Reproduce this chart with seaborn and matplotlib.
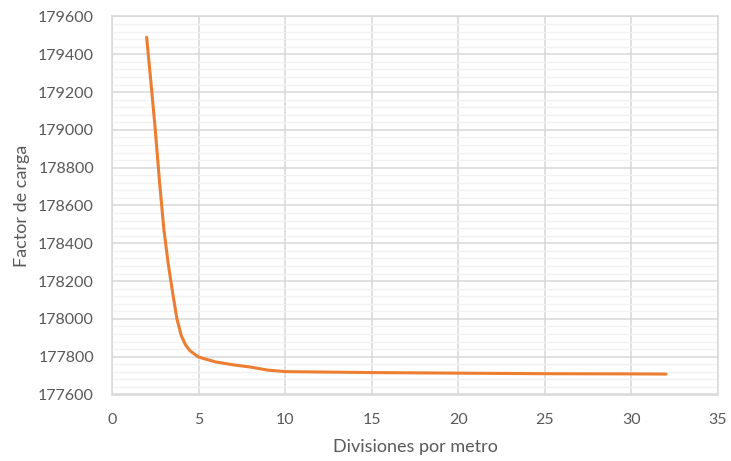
import matplotlib
matplotlib.use("Agg")
import matplotlib.pyplot as plt
import seaborn as sns
import pandas as pd
from matplotlib.ticker import MultipleLocator

# Values
divisiones = [2, 2.25, 2.5, 2.75, 3, 3.25, 3.5, 3.75, 4, 4.25, 4.5, 5,
              6, 7, 8, 9, 10, 15, 20, 25, 30, 32]
factor_carga = [179490, 179250, 179000, 178720, 178470, 178290, 178140, 178000,
                177912, 177862, 177832, 177798, 177772, 177757, 177745, 177729,
                177721, 177716, 177713, 177710, 177709, 177708]

x_ticks = [0, 5, 10, 15, 20, 25, 30, 35]
y_ticks = list(range(177600, 179601, 200))

df = pd.DataFrame({"Divisiones por metro": divisiones, "Factor de carga": factor_carga})

sns.set_style("white")
plt.rcParams["font.family"] = ["Lato", "DejaVu Sans"]

fig = plt.figure(figsize=(7.31, 4.61), dpi=100)
ax = fig.add_axes([112 / 731, 1 - 394.5 / 461, (718 - 112) / 731, (394.5 - 16.5) / 461])

sns.lineplot(data=df, x="Divisiones por metro", y="Factor de carga", ax=ax,
             color="#ED7D31", linewidth=2.2)

ax.set_xlim(0, 35)
ax.set_ylim(177600, 179600)
ax.set_xticks(x_ticks)
ax.set_yticks(y_ticks)
ax.yaxis.set_minor_locator(MultipleLocator(40))

ax.grid(which="major", color="#D9D9D9", linewidth=1.1)
ax.grid(which="minor", axis="y", color="#F2F2F2", linewidth=1.0)
ax.set_axisbelow(True)
for s in ax.spines.values():
    s.set_color("#D9D9D9")
    s.set_linewidth(1.1)

ax.tick_params(which="both", length=0, labelsize=11.5, labelcolor="#595959")
ax.tick_params(axis="y", pad=13)
ax.tick_params(axis="x", pad=13)

ax.set_xlabel("Divisiones por metro", fontsize=13, color="#595959", labelpad=9)
ax.set_ylabel("Factor de carga", fontsize=13, color="#595959", labelpad=6)

fig.savefig("out.png", dpi=100)
